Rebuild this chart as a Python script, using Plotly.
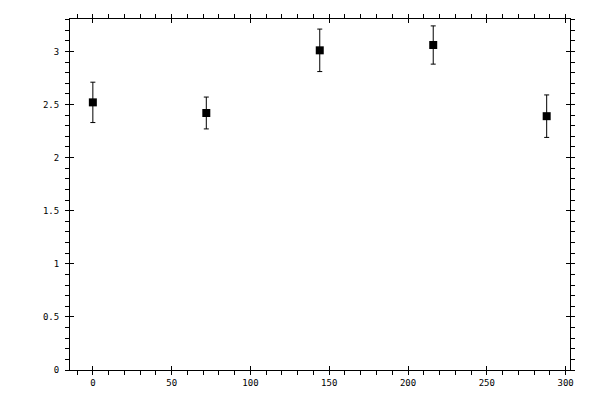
import plotly.graph_objects as go

# Data
x_vals = [0, 72, 144, 216, 288]
y_vals = [2.52, 2.42, 3.01, 3.06, 2.39]
y_err = [0.19, 0.15, 0.20, 0.18, 0.20]

x_ticks = [0, 50, 100, 150, 200, 250, 300]
y_ticks = [0, 0.5, 1, 1.5, 2, 2.5, 3]

x_range = [-14.5, 302.8]
y_range = [0, 3.305]

fig = go.Figure()

fig.add_trace(go.Scatter(
    x=x_vals,
    y=y_vals,
    mode='markers',
    marker=dict(symbol='square', size=8, color='black'),
    error_y=dict(type='data', array=y_err, visible=True,
                 color='black', thickness=1, width=2.5),
    showlegend=False,
))

# invisible trace so the overlay axes (inner halves of major ticks) get drawn
fig.add_trace(go.Scatter(
    x=[x_vals[0]], y=[y_vals[0]], xaxis='x2', yaxis='y2',
    mode='markers', marker=dict(opacity=0), hoverinfo='skip', showlegend=False,
))

font = dict(family='DejaVu Sans Mono', size=9, color='black')

axis_common = dict(
    showgrid=False, zeroline=False, automargin=False,
    showline=True, linecolor='black', linewidth=1,
    mirror='allticks', ticks='outside', ticklen=4, tickwidth=1, tickcolor='black',
    tickfont=font,
)

# page body adds an 8px offset, so margins are shifted to compensate
fig.update_layout(
    width=600, height=400,
    margin=dict(l=62, r=38, t=11, b=38),
    paper_bgcolor='white',
    plot_bgcolor='white',
    xaxis=dict(range=x_range, tickvals=x_ticks,
               minor=dict(dtick=10, ticks='outside', ticklen=4, tickcolor='black'),
               **axis_common),
    yaxis=dict(range=y_range, tickvals=y_ticks, ticklabelstandoff=4,
               minor=dict(dtick=0.1, ticks='outside', ticklen=4, tickcolor='black'),
               **axis_common),
    xaxis2=dict(range=x_range, tickvals=x_ticks, overlaying='x', anchor='y2',
                ticks='inside', ticklen=4, tickcolor='black', mirror='allticks',
                automargin=False,
                showticklabels=False, showgrid=False, zeroline=False, showline=False),
    yaxis2=dict(range=y_range, tickvals=y_ticks, overlaying='y', anchor='x2',
                ticks='inside', ticklen=4, tickcolor='black', mirror='allticks',
                automargin=False,
                showticklabels=False, showgrid=False, zeroline=False, showline=False),
)

fig.write_html("out.html")
